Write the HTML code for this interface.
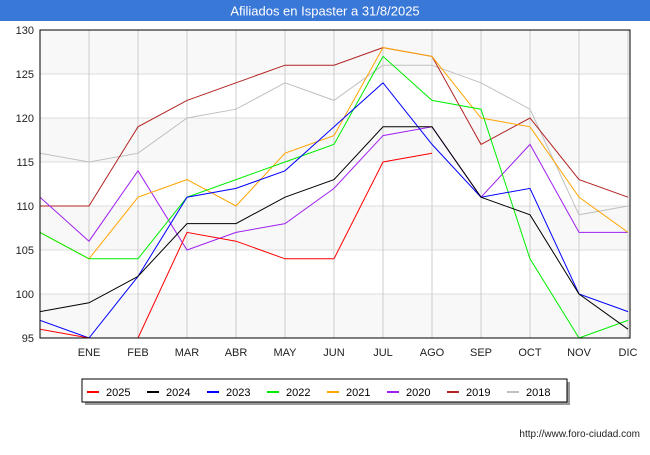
<!DOCTYPE html>
<html><head><meta charset="utf-8"><style>
body{margin:0;background:#fff;font-family:"Liberation Sans",sans-serif}
</style></head><body>
<svg width="650" height="450" xmlns="http://www.w3.org/2000/svg" font-family="Liberation Sans, sans-serif">
<rect x="0" y="0" width="650" height="21" fill="#3a78d8"/>
<text x="325" y="15.5" text-anchor="middle" font-size="13" fill="#fff">Afiliados en Ispaster a 31/8/2025</text>
<defs><clipPath id="pc"><rect x="40" y="30" width="590" height="308"/></clipPath></defs>
<g id="grid"></g>
<g id="series" clip-path="url(#pc)"></g>
<rect x="40" y="30" width="590" height="308" fill="none" stroke="#000" stroke-width="1"/>
<g id="labels" font-size="11" fill="#222"></g>
<rect x="85" y="382" width="485" height="23" fill="#999"/>
<rect x="82" y="379" width="485" height="23" fill="#fff" stroke="#000"/>
<g id="legend" font-size="11"></g>
<text x="640" y="437" text-anchor="end" font-size="10" fill="#222">http://www.foro-ciudad.com</text>
</svg>
<script>
const months=["","ENE","FEB","MAR","ABR","MAY","JUN","JUL","AGO","SEP","OCT","NOV","DIC"];
const yTicks=[95,100,105,110,115,120,125,130];
const years=["2025","2024","2023","2022","2021","2020","2019","2018"];
const colors=["#ff0000","#000000","#0000ff","#00ee00","#ffa500","#a020f0","#b22222","#c0c0c0"];
const s2025=[96,95,95,107,106,104,104,115,116];
const s2024=[98,99,102,108,108,111,113,119,119,111,109,100,96];
const s2023=[97,95,102,111,112,114,119,124,117,111,112,100,98];
const s2022=[107,104,104,111,113,115,117,127,122,121,104,95,97];
const s2021=[107,104,111,113,110,116,118,128,127,120,119,111,107];
const s2020=[111,106,114,105,107,108,112,118,119,111,117,107,107];
const s2019=[110,110,119,122,124,126,126,128,127,117,120,113,111];
const s2018=[116,115,116,120,121,124,122,126,126,124,121,109,110];
const allSeries=[s2025,s2024,s2023,s2022,s2021,s2020,s2019,s2018];
const NS="http://www.w3.org/2000/svg";
const X=i=>40+i*49, Y=v=>30+(130-v)*308/35;
function mk(t,a,p){const e=document.createElementNS(NS,t);for(const k in a)e.setAttribute(k,a[k]);p.appendChild(e);return e;}
const g=document.getElementById('grid'),lb=document.getElementById('labels');
for(let i=0;i<yTicks.length-1;i++){const b=mk('rect',{x:40,y:Y(yTicks[i+1]),width:590,height:Y(yTicks[i])-Y(yTicks[i+1]),fill:(i%2==0)?'#f8f8f8':'#ffffff'},g);
}
yTicks.forEach(v=>{const l=mk('line',{x1:40,x2:630,y1:Y(v),y2:Y(v),stroke:'#ddd'},g);

const t=mk('text',{x:34,y:Y(v)+4,'text-anchor':'end'},lb);t.textContent=v;
});
months.forEach((m,i)=>{const l=mk('line',{x1:X(i),x2:X(i),y1:30,y2:338,stroke:'#ccc'},g);

if(m){const t=mk('text',{x:X(i),y:356,'text-anchor':'middle'},lb);t.textContent=m;
}});
const sg=document.getElementById('series');
for(let k=allSeries.length-1;k>=0;k--){const p=mk('polyline',{points:allSeries[k].map((v,i)=>X(i)+','+Y(v)).join(' '),fill:'none',stroke:colors[k],'stroke-width':1},sg);
}
const lg=document.getElementById('legend');
years.forEach((y,k)=>{const x0=87+k*60;const l=mk('line',{x1:x0,x2:x0+12,y1:392,y2:392,stroke:colors[k],'stroke-width':2},lg);

const t=mk('text',{x:x0+19,y:396},lg);t.textContent=y;
});
</script>
</body></html>
